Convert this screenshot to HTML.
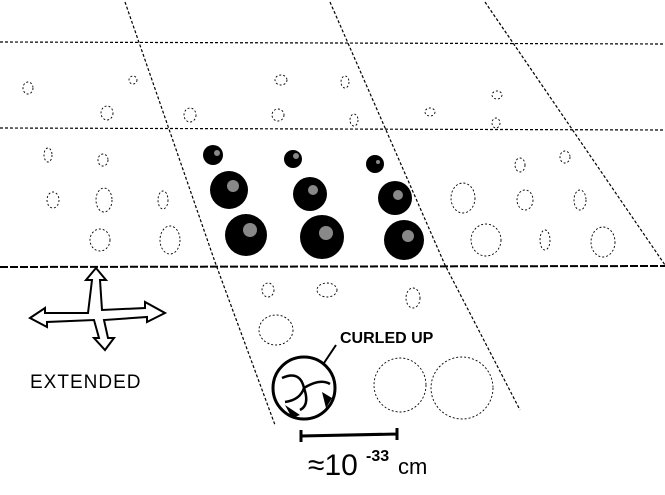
<!DOCTYPE html>
<html><head><style>body{margin:0;background:#fff}svg{display:block}</style></head><body>
<svg width="665" height="495" viewBox="0 0 665 495" xmlns="http://www.w3.org/2000/svg">
<g stroke="#000" fill="none" stroke-width="1.2" stroke-dasharray="3 2">
<line x1="0" y1="42" x2="665" y2="44"/>
<line x1="0" y1="128" x2="665" y2="130"/>
<line x1="0" y1="267" x2="665" y2="266" stroke-width="2" stroke-dasharray="8 2"/>
<path d="M125 2 L215 262 L275 425"/>
<path d="M330 2 L445 265 L520 410"/>
<path d="M485 2 L665 265"/>
</g>
<g stroke="#000" fill="none" stroke-width="0.9" stroke-dasharray="2 2">
<ellipse cx="28" cy="88" rx="5" ry="6"/><ellipse cx="133" cy="80" rx="4" ry="4"/><ellipse cx="281" cy="80" rx="6" ry="5"/><ellipse cx="345" cy="82" rx="4" ry="6"/><ellipse cx="497" cy="95" rx="5" ry="4"/><ellipse cx="107" cy="113" rx="6" ry="7"/><ellipse cx="190" cy="115" rx="6" ry="7"/><ellipse cx="278" cy="115" rx="6" ry="6"/><ellipse cx="354" cy="120" rx="4" ry="6"/><ellipse cx="496" cy="123" rx="4" ry="5"/><ellipse cx="430" cy="112" rx="5" ry="4"/>
<ellipse cx="48" cy="155" rx="4" ry="7"/><ellipse cx="103" cy="160" rx="5" ry="6"/><ellipse cx="520" cy="165" rx="5" ry="7"/><ellipse cx="565" cy="157" rx="5" ry="6"/>
<ellipse cx="53" cy="200" rx="6" ry="8"/><ellipse cx="104" cy="200" rx="8" ry="12"/><ellipse cx="163" cy="200" rx="5" ry="9"/><ellipse cx="463" cy="198" rx="12" ry="15"/><ellipse cx="525" cy="200" rx="8" ry="10"/><ellipse cx="580" cy="200" rx="6" ry="10"/>
<ellipse cx="100" cy="240" rx="10" ry="11"/><ellipse cx="170" cy="240" rx="10" ry="14"/><ellipse cx="486" cy="240" rx="15" ry="16"/><ellipse cx="545" cy="240" rx="5" ry="10"/><ellipse cx="603" cy="242" rx="12" ry="15"/>
<ellipse cx="268" cy="290" rx="6" ry="7"/><ellipse cx="327" cy="290" rx="10" ry="7"/><ellipse cx="413" cy="298" rx="7" ry="10"/><ellipse cx="276" cy="330" rx="17" ry="15"/><ellipse cx="400" cy="385" rx="26" ry="27"/><ellipse cx="462" cy="388" rx="31" ry="31"/>
</g>
<g fill="#000">
<circle cx="213" cy="155" r="10"/><circle cx="293" cy="159" r="9"/><circle cx="375" cy="164" r="9"/>
<circle cx="229" cy="190" r="19"/><circle cx="310" cy="194" r="17"/><circle cx="395" cy="198" r="17"/>
<circle cx="246" cy="235" r="21"/><circle cx="322" cy="237" r="22"/><circle cx="404" cy="240" r="20"/>
</g>
<g fill="#888"><circle cx="217" cy="153" r="3"/><circle cx="296" cy="156" r="3"/><circle cx="378" cy="162" r="2"/><circle cx="233" cy="186" r="6"/><circle cx="313" cy="190" r="5"/><circle cx="398" cy="195" r="5"/><circle cx="250" cy="230" r="7"/><circle cx="326" cy="233" r="7"/><circle cx="408" cy="236" r="6"/></g>
<g stroke="#000" stroke-width="2" fill="#fff">
<path d="M30 318 L45 308 L45 313 L88 313 L92 280 L86 280 L96 268 L106 280 L100 280 L102 310 L145 308 L145 302 L165 313 L147 322 L147 317 L104 320 L108 338 L114 338 L105 350 L94 338 L99 338 L94 320 L47 322 L47 327 Z"/>
</g>
<text x="30" y="388" font-family="Liberation Sans, sans-serif" font-size="19" letter-spacing="1">EXTENDED</text>
<text x="340" y="343" font-family="Liberation Sans, sans-serif" font-size="16" font-weight="bold">CURLED UP</text>
<path d="M336 345 L318 372" stroke="#000" stroke-width="2"/>
<path d="M312 380 L314 366 L324 372 Z" fill="#000"/>
<circle cx="304" cy="388" r="31" fill="#fff" stroke="#000" stroke-width="3"/>
<path d="M282 378 Q300 370 304 388 Q300 400 285 402 M304 388 Q320 378 330 384 M304 388 Q310 405 300 410" stroke="#000" stroke-width="2.5" fill="none"/>
<path d="M285 405 L300 415 L292 418 Z M322 392 L332 398 L326 408 Z" fill="#000"/>
<path d="M301 436 L397 434 M301 430 L301 442 M397 428 L397 440" stroke="#000" stroke-width="3"/>
<text x="308" y="475" font-family="Liberation Sans, sans-serif" font-size="30">≈10</text>
<text x="366" y="461" font-family="Liberation Sans, sans-serif" font-size="16" font-weight="bold">-33</text>
<text x="398" y="474" font-family="Liberation Sans, sans-serif" font-size="22">cm</text>
</svg>
</body></html>
